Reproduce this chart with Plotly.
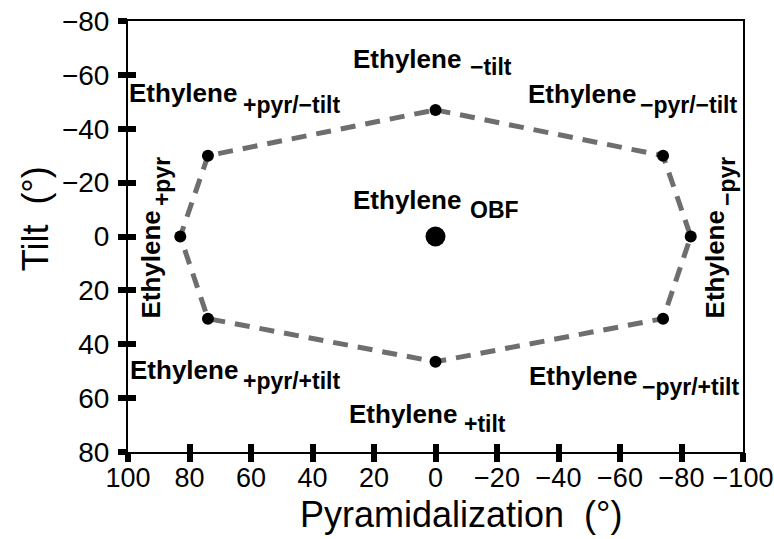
import plotly.graph_objects as go

# ---- data (degrees) ----
pyr_path = [0, -74, -83, -74, 0, 74, 83, 74, 0]
tilt_path = [-47, -30, 0, 30.5, 46.5, 30.5, 0, -30, -47]
obf_pyr = [0]
obf_tilt = [0]

x_ticks = [100, 80, 60, 40, 20, 0, -20, -40, -60, -80, -100]
y_ticks = [-80, -60, -40, -20, 0, 20, 40, 60, 80]

# labels: main text, subscript, main anchor (x,y,xanchor,yanchor), sub anchor, angle
labels = [
    ("Ethylene", "\u2212tilt", (-8.9, -66.0, "right", "middle"), (-10.6, -62.9, "left", "middle"), 0),
    ("Ethylene", "OBF", (-8.9, -13.4, "right", "middle"), (-10.6, -10.0, "left", "middle"), 0),
    ("Ethylene", "+pyr/\u2212tilt", (63.9, -53.2, "right", "middle"), (63.3, -48.7, "left", "middle"), 0),
    ("Ethylene", "\u2212pyr/\u2212tilt", (-65.7, -53.0, "right", "middle"), (-66.0, -48.7, "left", "middle"), 0),
    ("Ethylene", "+pyr/+tilt", (63.7, 49.5, "right", "middle"), (63.3, 53.6, "left", "middle"), 0),
    ("Ethylene", "\u2212pyr/+tilt", (-66.2, 51.7, "right", "middle"), (-66.5, 55.8, "left", "middle"), 0),
    ("Ethylene", "+tilt", (-7.6, 65.9, "right", "middle"), (-8.6, 69.6, "left", "middle"), 0),
    ("Ethylene", "+pyr", (92.5, -10.4, "center", "top"), (88.9, -10.4, "center", "bottom"), -90),
    ("Ethylene", "\u2212pyr", (-91.2, -10.4, "center", "top"), (-94.8, -10.4, "center", "bottom"), -90),
]

FONT = "Liberation Sans, Arial, sans-serif"

fig = go.Figure()
fig.add_trace(go.Scatter(
    x=pyr_path, y=tilt_path, mode="lines",
    line=dict(color="#6e6e6e", width=5, dash="15px,10px"),
    showlegend=False, hoverinfo="skip"))
fig.add_trace(go.Scatter(
    x=pyr_path[:-1], y=tilt_path[:-1], mode="markers",
    marker=dict(color="black", size=12), showlegend=False))
fig.add_trace(go.Scatter(
    x=obf_pyr, y=obf_tilt, mode="markers",
    marker=dict(color="black", size=20), showlegend=False))
# invisible traces so the overlay axes (outer tick marks) are drawn
fig.add_trace(go.Scatter(x=[None], y=[None], xaxis="x2", yaxis="y",
                         showlegend=False, hoverinfo="skip"))
fig.add_trace(go.Scatter(x=[None], y=[None], xaxis="x", yaxis="y2",
                         showlegend=False, hoverinfo="skip"))

annotations = []
for main, sub, ma, sa, ang in labels:
    annotations.append(dict(x=ma[0], y=ma[1], xref="x", yref="y", text=main,
                            xanchor=ma[2], yanchor=ma[3], showarrow=False, textangle=ang,
                            font=dict(family=FONT, size=26, color="black", weight="bold")))
    annotations.append(dict(x=sa[0], y=sa[1], xref="x", yref="y", text=sub,
                            xanchor=sa[2], yanchor=sa[3], showarrow=False, textangle=ang,
                            font=dict(family=FONT, size=23, color="black", weight="bold")))

annotations.append(dict(x=0.5415, y=-0.1439, xref="paper", yref="paper",
                        text="Pyramidalization\u00a0\u00a0(\u00b0)", showarrow=False,
                        xanchor="center", yanchor="middle",
                        font=dict(family=FONT, size=36, color="black")))
annotations.append(dict(x=-0.1512, y=0.540, xref="paper", yref="paper",
                        text="Tilt\u00a0\u00a0(\u00b0)", showarrow=False, textangle=-90,
                        xanchor="center", yanchor="middle",
                        font=dict(family=FONT, size=36, color="black")))

axis_common = dict(showgrid=False, zeroline=False, automargin=False)

fig.update_layout(
    width=774, height=539,
    margin=dict(l=128, r=31, t=21, b=87),
    paper_bgcolor="white", plot_bgcolor="white",
    font=dict(family=FONT, color="black"),
    xaxis=dict(range=[100, -100], tickvals=x_ticks, ticks="inside", ticklen=8,
               tickwidth=6, tickcolor="black", showline=True,
               linewidth=2, linecolor="black", mirror=True, ticklabelstandoff=1,
               ticklabeloverflow="allow",
               tickfont=dict(family=FONT, size=27, color="black"), **axis_common),
    yaxis=dict(range=[80, -80], tickvals=y_ticks, ticks="inside", ticklen=8,
               tickwidth=6, tickcolor="black", showline=True,
               linewidth=2, linecolor="black", mirror=True, ticklabelstandoff=11,
               ticklabeloverflow="allow",
               tickfont=dict(family=FONT, size=28, color="black"), **axis_common),
    xaxis2=dict(range=[100, -100], tickvals=x_ticks, ticks="outside", ticklen=9,
                tickwidth=6, tickcolor="black", showticklabels=False, showline=False,
                overlaying="x", anchor="y", side="bottom", **axis_common),
    yaxis2=dict(range=[80, -80], tickvals=y_ticks, ticks="outside", ticklen=9,
                tickwidth=6, tickcolor="black", showticklabels=False, showline=False,
                overlaying="y", anchor="x", side="left", **axis_common),
    annotations=annotations,
)

fig.write_html("out.html")
